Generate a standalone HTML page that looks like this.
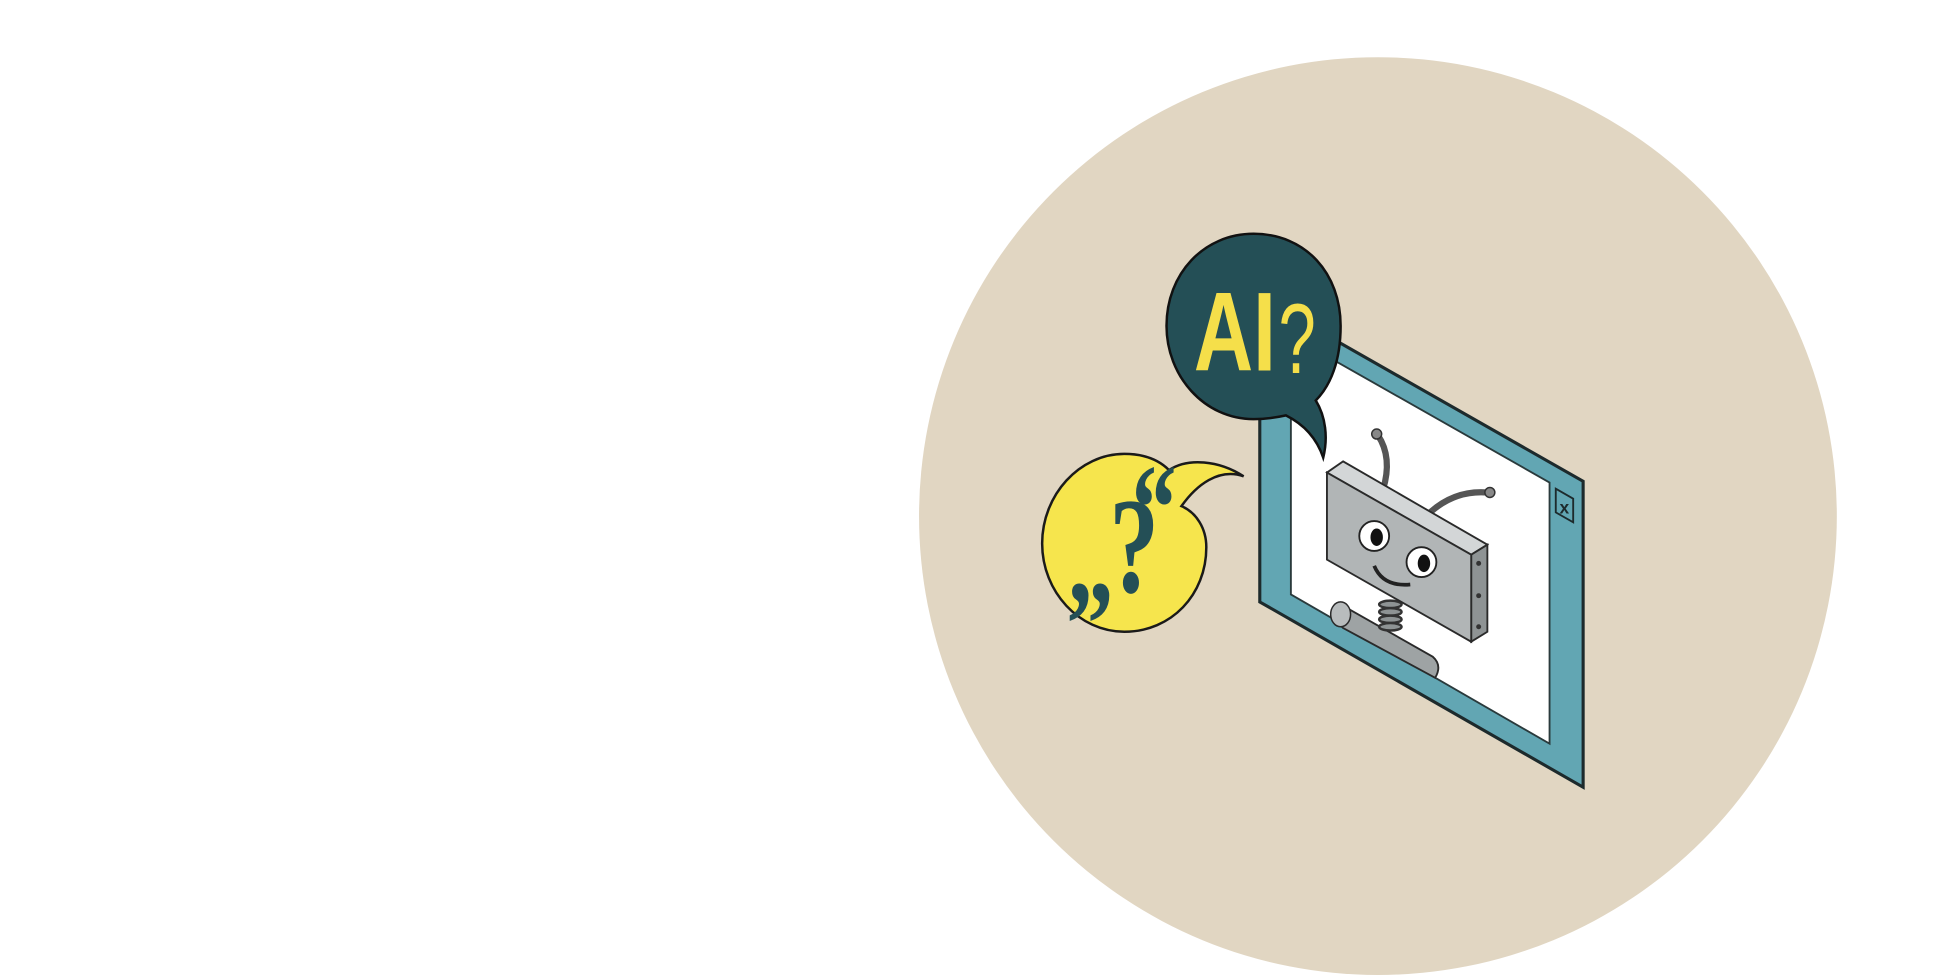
<!DOCTYPE html>
<html><head><meta charset="utf-8"><style>
html,body{margin:0;padding:0;background:#fff;}
svg{display:block;}
</style></head><body>
<svg width="1950" height="975" viewBox="0 0 1568 784" xmlns="http://www.w3.org/2000/svg">
<rect width="1568" height="784" fill="#fff"/>
<circle cx="1108" cy="415" r="369" fill="#e1d6c2"/>
<polygon points="1013,239 1273,387 1273,633 1013,484" fill="#62a6b3" stroke="#1d2a2c" stroke-width="2.5"/>
<polygon points="1038,270 1246,388 1246,598 1038,478" fill="#ffffff" stroke="#2a3a3c" stroke-width="1.5"/>
<polygon points="1251,393 1265,401 1265,420 1251,412" fill="#62a6b3" stroke="#1d2a2c" stroke-width="1.5"/>
<text x="1254" y="413" font-family="Liberation Sans, sans-serif" font-size="14" font-weight="bold" fill="#1d2a2c">x</text>
<path d="M1078,486 L1152,528 Q1160,535 1154,545 L1080,505 Q1068,495 1078,486 Z" fill="#9ea3a4" stroke="#2a2a2a" stroke-width="1.5"/>
<ellipse cx="1078" cy="494" rx="8" ry="10" fill="#b8bcbd" stroke="#2a2a2a" stroke-width="1.2"/>
<g stroke="#333" stroke-width="2" fill="#8e9394">
<ellipse cx="1118" cy="486" rx="9" ry="3"/><ellipse cx="1118" cy="492" rx="9" ry="3"/><ellipse cx="1118" cy="498" rx="9" ry="3"/><ellipse cx="1118" cy="504" rx="9" ry="3"/>
</g>
<path d="M1108,350 Q1120,368 1112,394" stroke="#555" stroke-width="5" fill="none"/>
<circle cx="1107" cy="349" r="4" fill="#888" stroke="#333" stroke-width="1.2"/>
<path d="M1150,412 Q1170,394 1196,396" stroke="#555" stroke-width="5" fill="none"/>
<circle cx="1198" cy="396" r="4" fill="#888" stroke="#333" stroke-width="1.2"/>
<polygon points="1067,380 1080,371 1196,438 1183,446" fill="#d3d6d7" stroke="#2a2a2a" stroke-width="1.5"/>
<polygon points="1183,446 1196,438 1196,508 1183,516" fill="#8e9394" stroke="#2a2a2a" stroke-width="1.5"/>
<polygon points="1067,380 1183,446 1183,516 1067,450" fill="#b1b5b6" stroke="#2a2a2a" stroke-width="1.5"/>
<circle cx="1189" cy="453" r="2" fill="#333"/><circle cx="1189" cy="479" r="2" fill="#333"/><circle cx="1189" cy="504" r="2" fill="#333"/>
<circle cx="1105" cy="431" r="12" fill="#fff" stroke="#222" stroke-width="1.5"/>
<ellipse cx="1107" cy="432" rx="5" ry="7" fill="#111"/>
<circle cx="1143" cy="452" r="12" fill="#fff" stroke="#222" stroke-width="1.5"/>
<ellipse cx="1145" cy="453" rx="5" ry="7" fill="#111"/>
<path d="M1105,455 Q1112,472 1134,470" stroke="#222" stroke-width="3" fill="none"/>
<path d="M1008,188 C1050,188 1078,220 1078,262 C1078,290 1070,310 1058,322 C1066,335 1068,352 1064,368 C1058,350 1046,340 1034,334 C1025,336 1016,337 1008,337 C968,337 938,302 938,262 C938,220 968,188 1008,188 Z" fill="#244f56" stroke="#111" stroke-width="2"/>
<text x="960" y="298" font-family="Liberation Sans, sans-serif" font-size="90" font-weight="bold" fill="#f5df4a" textLength="66" lengthAdjust="spacingAndGlyphs">AI</text>
<text x="1028" y="300" font-family="Liberation Sans, sans-serif" font-size="80" fill="#f5df4a" textLength="30" lengthAdjust="spacingAndGlyphs">?</text>
<path d="M904,365 C920,365 932,370 940,378 C955,368 980,370 1000,383 C980,376 962,390 950,407 C962,412 970,425 970,440 C970,478 942,508 904,508 C868,508 838,476 838,437 C838,398 868,365 904,365 Z" fill="#f6e54d" stroke="#1a1a1a" stroke-width="2"/>
<text x="892" y="476" font-family="Liberation Serif, serif" font-size="110" font-weight="bold" fill="#244f56" textLength="40" lengthAdjust="spacingAndGlyphs">?</text>
<text x="910" y="442" font-family="Liberation Serif, serif" font-size="100" font-weight="bold" fill="#244f56" textLength="36" lengthAdjust="spacingAndGlyphs">“</text>
<text x="858" y="484" font-family="Liberation Serif, serif" font-size="100" font-weight="bold" fill="#244f56" textLength="38" lengthAdjust="spacingAndGlyphs">„</text>
</svg>
</body></html>
